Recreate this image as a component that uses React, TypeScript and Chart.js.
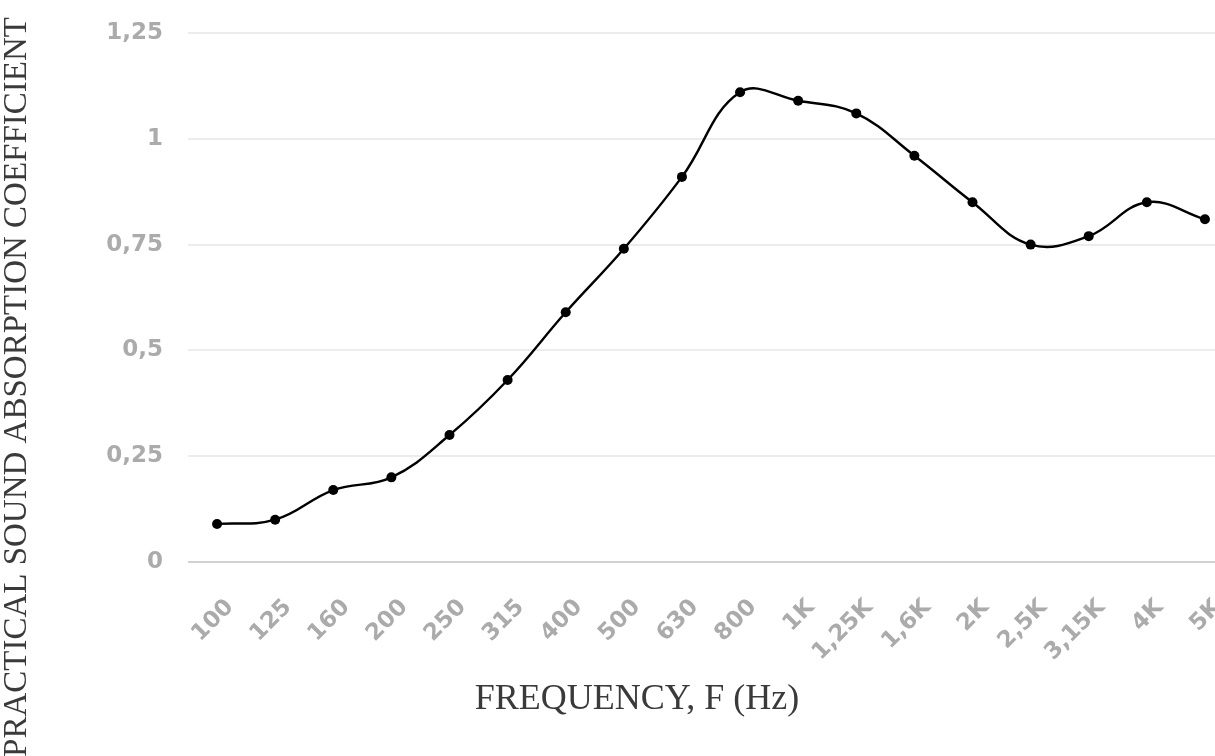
import React, { useEffect, useRef } from "react";
import { Chart, registerables } from "chart.js";

Chart.register(...registerables);

const categories: string[] = [
  "100", "125", "160", "200", "250", "315", "400", "500", "630",
  "800", "1K", "1,25K", "1,6K", "2K", "2,5K", "3,15K", "4K", "5K",
];

const absorption: number[] = [
  0.09, 0.10, 0.17, 0.20, 0.30, 0.43, 0.59, 0.74, 0.91,
  1.11, 1.09, 1.06, 0.96, 0.85, 0.75, 0.77, 0.85, 0.81,
];

const yTicks: number[] = [0, 0.25, 0.5, 0.75, 1, 1.25];

const xTitle = "FREQUENCY, F (Hz)";
const yTitle = "PRACTICAL SOUND ABSORPTION COEFFICIENT";

const titlesPlugin = {
  id: "customTitles",
  afterDraw(chart: any) {
    const ctx = chart.ctx;
    ctx.save();
    ctx.fillStyle = "#3a3a3a";
    ctx.textBaseline = "middle";
    ctx.textAlign = "center";
    ctx.font = "36px 'Liberation Serif', serif";
    ctx.fillText(xTitle, 637, 700);
    ctx.translate(17, 387);
    ctx.rotate(-Math.PI / 2);
    ctx.font = "33px 'Liberation Serif', serif";
    ctx.fillText(yTitle, 0, 0);
    ctx.restore();
  },
};

const zeroPadding = (scale: any) => {
  scale.paddingTop = 0;
  scale.paddingBottom = 0;
  scale.paddingLeft = 0;
  scale.paddingRight = 0;
};

export default function App() {
  const canvasRef = useRef<HTMLCanvasElement | null>(null);

  useEffect(() => {
    document.body.style.margin = "0";
    document.body.style.overflow = "hidden";
    const canvas = canvasRef.current;
    if (!canvas) return;
    const chart = new Chart(canvas, {
      type: "line",
      data: {
        labels: categories,
        datasets: [
          {
            data: absorption,
            borderColor: "#000",
            borderWidth: 2.4,
            backgroundColor: "#000",
            pointRadius: 5,
            pointBackgroundColor: "#000",
            pointBorderWidth: 0,
            tension: 0.4,
            fill: false,
          },
        ],
      },
      plugins: [titlesPlugin],
      options: {
        responsive: false,
        animation: false,
        devicePixelRatio: 1,
        layout: {
          autoPadding: false,
          padding: { top: 33, left: 0, right: 6, bottom: 0 },
        },
        plugins: {
          legend: { display: false },
          tooltip: { enabled: false },
          title: { display: false },
        },
        scales: {
          x: {
            type: "category",
            offset: true,
            grid: { display: false, drawTicks: false },
            border: { display: false },
            ticks: {
              minRotation: 45,
              maxRotation: 45,
              autoSkip: false,
              padding: 32,
              labelOffset: 13,
              color: "#ababab",
              font: { family: "'DejaVu Sans', sans-serif", weight: "bold", size: 23 },
            },
            afterFit: (scale: any) => {
              scale.height = 194;
              zeroPadding(scale);
            },
          },
          y: {
            min: 0,
            max: 1.25,
            afterBuildTicks: (scale: any) => {
              scale.ticks = yTicks.map((v) => ({ value: v }));
            },
            grid: {
              drawTicks: false,
              lineWidth: 2,
              color: (c: any) => (c.tick && c.tick.value === 0 ? "#d2d2d2" : "#ececec"),
            },
            border: { display: false },
            ticks: {
              padding: 25,
              color: "#ababab",
              font: { family: "'DejaVu Sans', sans-serif", weight: "bold", size: 23 },
              callback: (v: any) => String(v).replace(".", ","),
            },
            afterFit: (scale: any) => {
              scale.width = 188;
              zeroPadding(scale);
            },
          },
        },
      },
    });
    return () => chart.destroy();
  }, []);

  return (
    <div style={{ width: 1215, height: 756, overflow: "hidden", position: "relative", background: "#fff" }}>
      <canvas ref={canvasRef} width={1240} height={756} style={{ display: "block" }} />
    </div>
  );
}
